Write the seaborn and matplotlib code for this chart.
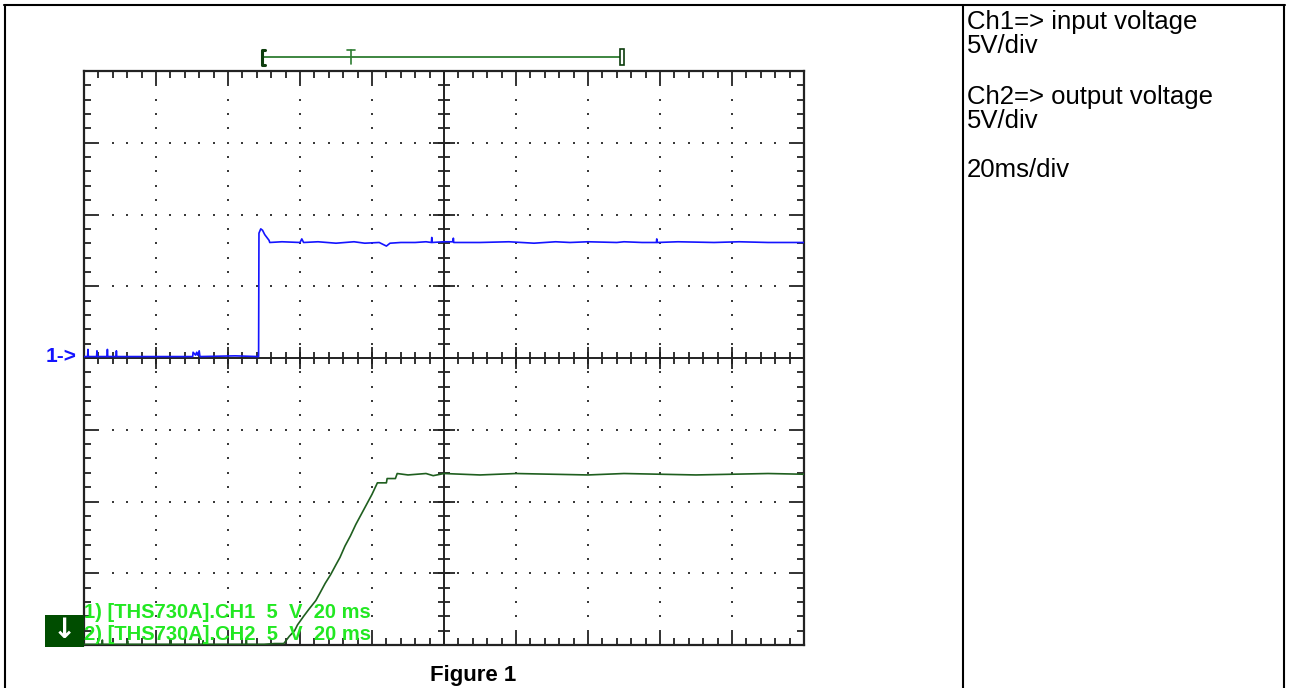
import numpy as np
import pandas as pd
import matplotlib
matplotlib.use("Agg")
import matplotlib.pyplot as plt
import seaborn as sns
from matplotlib.patches import Rectangle

# ---------------- data (time in ms, volts) ----------------
ch1_t = [0, 1.0, 1.1, 1.2, 3.5, 3.6, 3.7, 6.4, 6.5, 6.6, 8.9, 9.0, 9.1, 25.0,
         30.2, 30.3, 31.0, 31.3, 31.6, 32.0, 32.2, 42.0, 48.5,
         48.6, 49.1, 49.6, 50.2, 50.8, 51.4, 51.6, 55.0, 60.0, 60.5, 61.0,
         65.0, 70.0, 75.0, 78.0, 82.0, 84.0, 85.0, 88.0, 92.0, 95.0, 96.5,
         96.6, 96.7, 100.0, 102.5, 102.6, 102.7, 110.0, 118.0, 125.0, 131.0,
         135.0, 140.0, 148.0, 150.0, 155.0, 159.0, 159.1, 159.2, 165.0,
         175.0, 182.0, 190.0, 200.0]
ch1_v = [0.1, 0.1, 0.6, 0.1, 0.1, 0.5, 0.1, 0.1, 0.6, 0.1, 0.1, 0.5, 0.1, 0.1,
         0.1, 0.4, 0.2, 0.4, 0.2, 0.5, 0.1, 0.15, 0.1,
         8.7, 9.0, 8.9, 8.6, 8.4, 8.2, 8.05, 8.1, 8.05, 8.3, 8.05,
         8.1, 8.0, 8.1, 8.0, 8.05, 7.8, 8.0, 8.05, 8.05, 8.1, 8.05,
         8.4, 8.05, 8.1, 8.1, 8.35, 8.05, 8.05, 8.1, 8.0, 8.1,
         8.05, 8.1, 8.05, 8.1, 8.05, 8.05, 8.3, 8.05, 8.1,
         8.05, 8.1, 8.05, 8.05]

ch2_t = [0, 5.0, 5.1, 5.2, 12.0, 12.1, 12.2, 20.0, 24.0, 24.1, 24.2, 30.0,
         33.0, 33.1, 33.2, 40.0, 45.0, 45.1, 45.2, 50.0, 53.0, 55.5, 57.0,
         58.5, 59.3, 61.0, 62.5, 64.4, 65.5, 67.0, 68.5, 70.0, 71.1, 72.5,
         74.0, 75.5, 77.0, 78.5, 80.0, 81.5, 84.0, 84.2, 86.5, 87.0, 90.0,
         95.0, 97.0, 100.0, 105.0, 110.0, 120.0, 130.0, 140.0, 150.0, 160.0,
         170.0, 180.0, 190.0, 200.0]
ch2_v = [0.05, 0.05, 0.35, 0.05, 0.05, 0.3, 0.05, 0.05, 0.05, 0.35, 0.05, 0.05,
         0.05, 0.3, 0.05, 0.05, 0.05, 0.35, 0.05, 0.05, 0.1, 0.1, 0.6,
         1.0, 1.4, 2.0, 2.5, 3.1, 3.6, 4.3, 4.9, 5.6, 6.1, 6.9,
         7.6, 8.4, 9.1, 9.8, 10.5, 11.3, 11.3, 11.6, 11.6, 11.95, 11.85,
         11.95, 11.8, 11.95, 11.9, 11.85, 11.95, 11.9, 11.85, 11.95, 11.9,
         11.85, 11.9, 11.95, 11.9]

ch2_ground = -20          # Ch2 reference marker position on screen (V)
ms_per_div, v_per_div = 20, 5
n_xdiv, n_ydiv = 10, 8
trig_start, trig_pos, trig_end = 49.4, 74.2, 149.4

scope_labels = ["1) [THS730A].CH1  5  V  20 ms", "2) [THS730A].CH2  5  V  20 ms"]
side_notes = ["Ch1=> input voltage", "5V/div", "Ch2=> output voltage", "5V/div", "20ms/div"]
caption = "Figure 1"

BLUE = "#1414ff"
DKGREEN = "#1f5f1f"
TRIG = "#2e7d32"
LGREEN = "#22e822"
INK = "#222222"

sns.set_theme(style="white")
plt.rcParams["font.family"] = ["Liberation Sans", "DejaVu Sans"]

W, H = 1289, 688
fig = plt.figure(figsize=(W / 100, H / 100), dpi=100)
fig.patch.set_facecolor("white")

# background overlay in pixel coordinates
bg = fig.add_axes([0, 0, 1, 1], zorder=0)
bg.set_xlim(0, W)
bg.set_ylim(H, 0)
bg.axis("off")
for x in [5, 963, 1284]:
    bg.plot([x, x], [5, H], color="black", lw=1.5, solid_capstyle="butt")
bg.plot([4, 1285], [5, 5], color="black", lw=1.5)

# scope axes
ax = fig.add_axes([84 / W, (H - 645) / H, 720 / W, 574 / H], zorder=2)
ax.patch.set_alpha(0)
xmax = ms_per_div * n_xdiv
ymax = v_per_div * n_ydiv / 2

# grid dots
xmaj = [x for x in np.arange(ms_per_div, xmax, ms_per_div) if x != xmax / 2]
ymaj = [y for y in np.arange(-ymax + v_per_div, ymax, v_per_div) if y != 0]
ymin_ = np.arange(-ymax, ymax + 0.01, v_per_div / 5)
xmin_ = np.arange(0, xmax + 0.01, ms_per_div / 5)
gx = [x for x in xmaj for _ in ymin_] + [x for _ in ymaj for x in xmin_]
gy = [y for _ in xmaj for y in ymin_] + [y for y in ymaj for _ in xmin_]
ax.scatter(gx, gy, s=2.0, marker="s", color="#3a3a3a", linewidths=0, zorder=1)

# center cross with ticks
ax.axvline(xmax / 2, color=INK, lw=1.4, zorder=2)
ax.axhline(0, color=INK, lw=1.4, zorder=2)
ax.plot([xmax / 2] * len(ymin_), ymin_, ls="none", marker="_", ms=8, mew=1.3, color=INK, zorder=2)
ax.plot([xmax / 2] * 9, np.arange(-ymax, ymax + 0.01, v_per_div), ls="none", marker="_", ms=16, mew=1.3, color=INK, zorder=2)
ax.plot(xmin_, [0] * len(xmin_), ls="none", marker="|", ms=8, mew=1.3, color=INK, zorder=2)
ax.plot(np.arange(0, xmax + 0.01, ms_per_div), [0] * 11, ls="none", marker="|", ms=16, mew=1.3, color=INK, zorder=2)

# traces
df1 = pd.DataFrame({"t": ch1_t, "v": ch1_v})
df2 = pd.DataFrame({"t": ch2_t, "v": np.array(ch2_v) + ch2_ground})
sns.lineplot(data=df1, x="t", y="v", ax=ax, color=BLUE, lw=1.2, sort=False, estimator=None, zorder=4)
sns.lineplot(data=df2, x="t", y="v", ax=ax, color=DKGREEN, lw=1.2, sort=False, estimator=None, zorder=4)

ax.set_xlim(0, xmax)
ax.set_ylim(-ymax, ymax)
ax.set_xticks(np.arange(0, xmax + 0.01, ms_per_div))
ax.set_xticks(xmin_, minor=True)
ax.set_yticks(np.arange(-ymax, ymax + 0.01, v_per_div))
ax.set_yticks(ymin_, minor=True)
ax.tick_params(which="both", direction="in", top=True, right=True, bottom=True, left=True,
               labelbottom=False, labelleft=False, color=INK, width=1.3)
ax.tick_params(which="major", length=10)
ax.tick_params(which="minor", length=5)
ax.set_xlabel("")
ax.set_ylabel("")
for s in ax.spines.values():
    s.set_linewidth(1.6)
    s.set_color(INK)
    s.set_visible(True)

# trigger bar above the graticule
ytr = ymax + 0.98
ax.plot([trig_start, trig_end], [ytr, ytr], color=TRIG, lw=1.3, clip_on=False, zorder=5)
ax.plot([trig_start + 0.9, trig_start, trig_start, trig_start + 0.9],
        [ytr + 0.5, ytr + 0.5, ytr - 0.55, ytr - 0.55], color="#0d3d0d", lw=2.2, clip_on=False, zorder=6)
ax.plot([trig_pos, trig_pos], [ytr - 0.5, ytr + 0.5], color=TRIG, lw=1.2, clip_on=False, zorder=6)
ax.plot([trig_pos - 1.1, trig_pos + 1.1], [ytr + 0.5, ytr + 0.5], color=TRIG, lw=1.2, clip_on=False, zorder=6)
ax.add_patch(Rectangle((trig_end - 0.55, ytr - 0.55), 1.1, 1.1, facecolor="white",
                       edgecolor="#0d3d0d", lw=1.2, clip_on=False, zorder=6))

# overlay texts / markers
top = fig.add_axes([0, 0, 1, 1], zorder=5)
top.set_xlim(0, W)
top.set_ylim(H, 0)
top.axis("off")
top.patch.set_alpha(0)
top.text(46, 357, "1->", color=BLUE, fontsize=15, fontweight="bold", va="center", ha="left")
top.add_patch(Rectangle((45, 615), 39, 32, facecolor="#004d00", edgecolor="none"))
top.text(64, 630, "↓", color="white", fontsize=20, fontweight="bold", ha="center", va="center",
         family=["DejaVu Sans"])
top.text(84, 612, scope_labels[0], color=LGREEN, fontsize=14.5, fontweight="bold", va="center", ha="left")
top.text(84, 635, scope_labels[1], color=LGREEN, fontsize=14.5, fontweight="bold", va="center", ha="left")

for txt, yb in zip(side_notes, [22, 46, 97, 121, 170]):
    top.text(967, yb, txt, fontsize=18.5, va="center", ha="left", color="black")
top.text(473, 675, caption, fontsize=16, fontweight="bold", ha="center", va="center", color="black")

fig.savefig("out.png", dpi=100)
